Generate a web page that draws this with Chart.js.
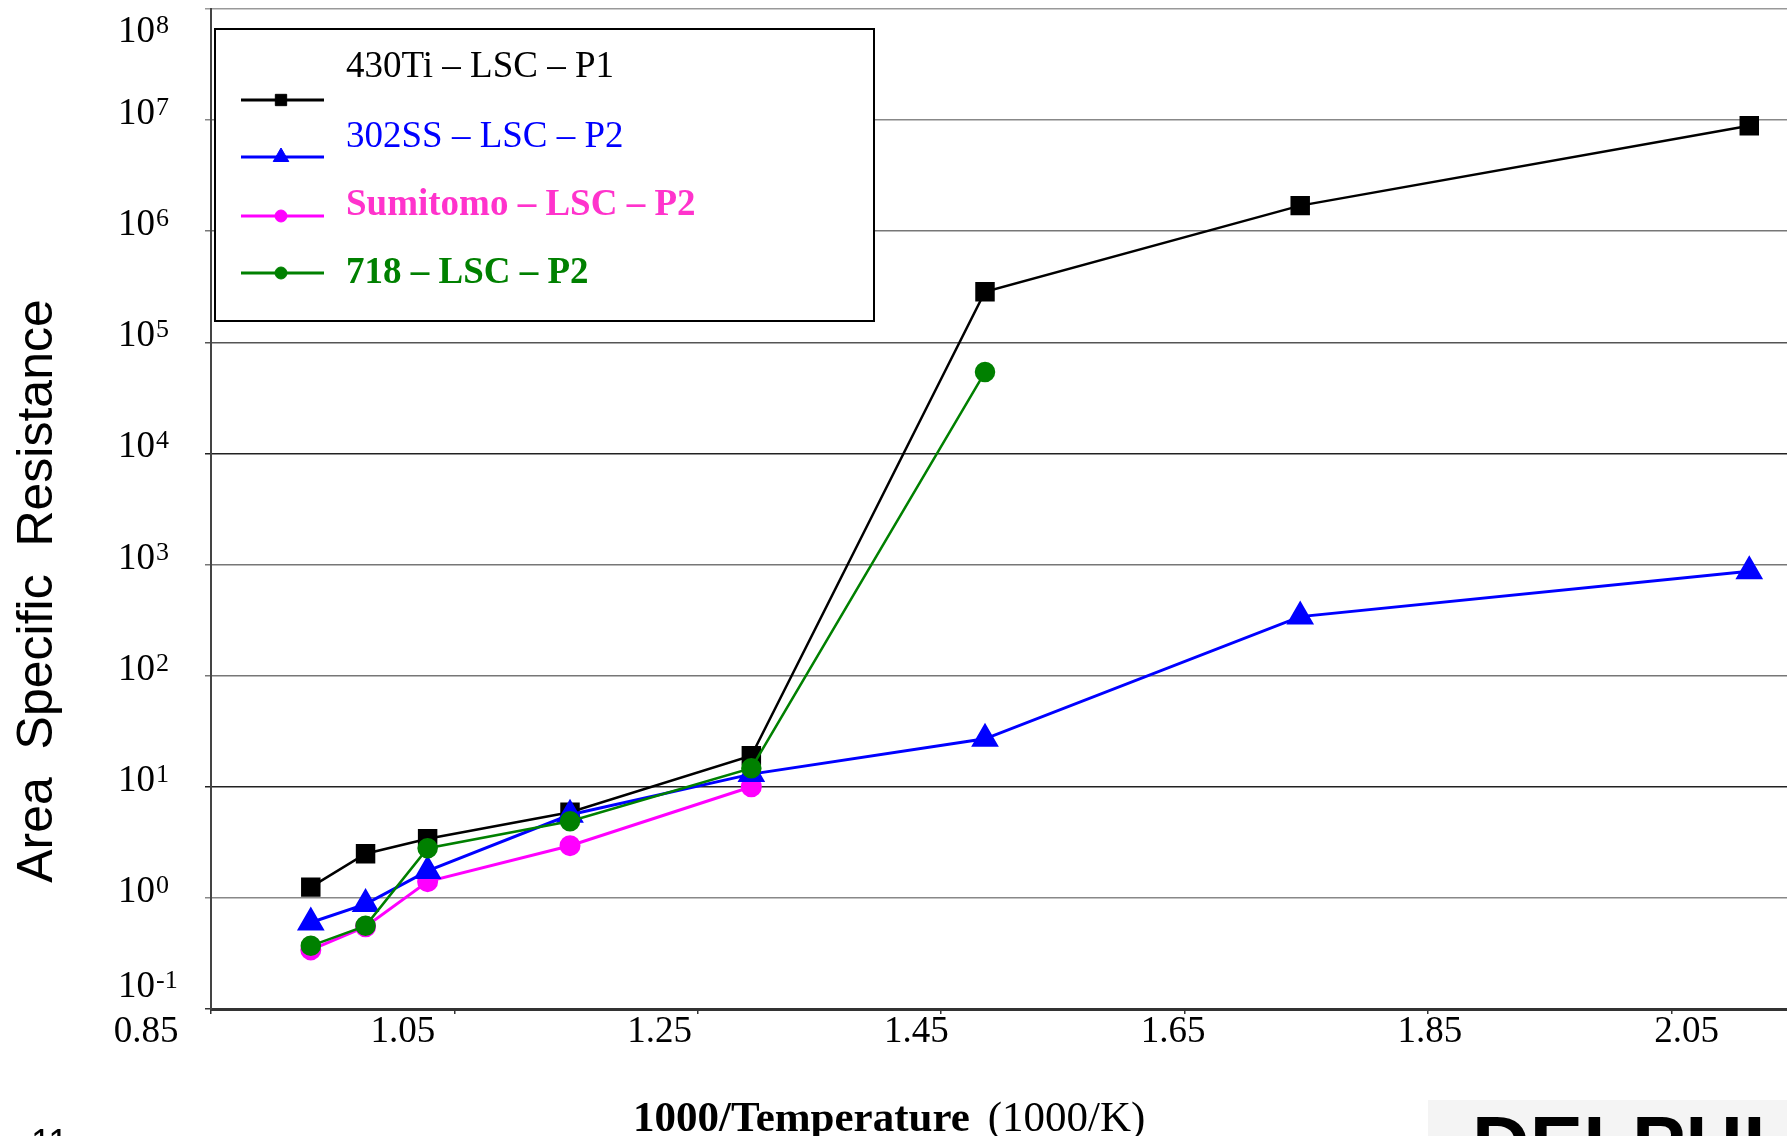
<!DOCTYPE html>
<html>
<head>
<meta charset="utf-8">
<script src="https://cdn.jsdelivr.net/npm/chart.js"></script>
<style>
  html, body { margin: 0; padding: 0; background: #fff; overflow: hidden; }
  canvas { display: block; }
</style>
</head>
<body>
<canvas id="asr" width="1787" height="1136"></canvas>
<script>
// 1000/T for 800, 750, 700, 600, 500, 400, 300, 200 °C
const invTemp = [0.932, 0.977, 1.028, 1.145, 1.294, 1.486, 1.745, 2.114];

const ti430 = [1.25, 2.5, 3.4, 5.9, 19, 2.85e5, 1.7e6, 8.9e6];
const ss302 = [0.6, 0.88, 1.75, 5.6, 13, 27, 340, 870];
const sumitomo = [0.34, 0.55, 1.4, 2.95, 10];
const in718 = [0.37, 0.56, 2.8, 4.9, 14.7, 5.4e4];

const seriesLabels = ['430Ti \u2013 LSC \u2013 P1', '302SS \u2013 LSC \u2013 P2', 'Sumitomo \u2013 LSC \u2013 P2', '718 \u2013 LSC \u2013 P2'];

const xTicks = [0.85, 1.05, 1.25, 1.45, 1.65, 1.85, 2.05];
const yTicks = [0.1, 1, 10, 1e2, 1e3, 1e4, 1e5, 1e6, 1e7, 1e8];

// grid line shades, bottom to top (the scanned original is uneven)
const gridColors = ['#333', '#888', '#222', '#777', '#777', '#222', '#555', '#777', '#888', '#999'];

const toPoints = (vals) => vals.map((v, i) => ({ x: invTemp[i], y: v }));

// legend look per series: text style, text baseline, line y
const legendStyle = [
  { font: '37px "Liberation Serif"', color: '#000', textY: 77, lineY: 100, r: 8 },
  { font: '37px "Liberation Serif"', color: '#0000ff', textY: 147, lineY: 157, r: 9 },
  { font: 'bold 37px "Liberation Serif"', color: '#ff33cc', textY: 215, lineY: 216, r: 6 },
  { font: 'bold 37px "Liberation Serif"', color: '#008000', textY: 283, lineY: 273, r: 6 },
];

const whiteBg = {
  id: 'whiteBg',
  beforeDraw(chart) {
    const ctx = chart.ctx;
    ctx.save();
    ctx.fillStyle = '#fff';
    ctx.fillRect(0, 0, chart.width, chart.height);
    ctx.restore();
  },
};

const overlay = {
  id: 'overlay',
  afterDraw(chart) {
    const { ctx, chartArea: a, scales: { x, y } } = chart;
    ctx.save();
    ctx.fillStyle = '#000';

    // y tick labels: 10 with superscript exponent
    y.ticks.forEach((t) => {
      const exp = Math.round(Math.log10(t.value));
      let c = y.getPixelForValue(t.value) - 9;
      c = Math.min(Math.max(c, 29), 984);
      ctx.textBaseline = 'alphabetic';
      ctx.font = '37px "Liberation Serif"';
      ctx.textAlign = 'right';
      ctx.fillText('10', 155, c + 13);
      ctx.font = '26px "Liberation Serif"';
      ctx.textAlign = 'left';
      ctx.fillText(String(exp), 156, c + 4);
    });

    // x tick labels (slightly stretched against the ticks, as in the original)
    ctx.font = '37px "Liberation Serif"';
    ctx.textAlign = 'center';
    x.ticks.forEach((t) => {
      const px = x.getPixelForValue(t.value);
      const lx = a.left + (px - a.left) * 1.055 - 65;
      ctx.fillText(t.value.toFixed(2), lx, 1042);
    });

    // x title
    ctx.textAlign = 'left';
    ctx.font = 'bold 43px "Liberation Serif"';
    const part1 = '1000/Temperature';
    ctx.fillText(part1, 633, 1131);
    const w1 = ctx.measureText(part1).width;
    ctx.font = '43px "Liberation Serif"';
    ctx.fillText('(1000/K)', 633 + w1 + 18, 1131);

    // y title
    ctx.save();
    ctx.translate(52, 591);
    ctx.rotate(-Math.PI / 2);
    ctx.textAlign = 'center';
    ctx.font = '50px "Liberation Sans"';
    ctx.fillText('Area  Specific  Resistance', 0, 0);
    ctx.restore();

    // legend box
    ctx.fillStyle = '#fff';
    ctx.fillRect(215, 29, 659, 292);
    ctx.strokeStyle = '#000';
    ctx.lineWidth = 2;
    ctx.strokeRect(215, 29, 659, 292);

    chart.data.datasets.forEach((ds, i) => {
      const st = legendStyle[i];
      ctx.strokeStyle = ds.borderColor;
      ctx.lineWidth = 3;
      ctx.beginPath();
      ctx.moveTo(241, st.lineY);
      ctx.lineTo(324, st.lineY);
      ctx.stroke();
      ctx.fillStyle = ds.pointBackgroundColor;
      ctx.strokeStyle = ds.pointBackgroundColor;
      ctx.lineWidth = 1;
      Chart.helpers.drawPoint(ctx, { pointStyle: ds.pointStyle, radius: st.r, rotation: 0, borderWidth: 1 }, 281, st.lineY);
      ctx.font = st.font;
      ctx.fillStyle = st.color;
      ctx.textAlign = 'left';
      ctx.fillText(ds.label, 346, st.textY);
    });

    // slide footer fragments
    ctx.fillStyle = '#000';
    ctx.font = '36px "Liberation Sans"';
    ctx.textBaseline = 'top';
    ctx.fillText('11', 31, 1127);
    ctx.fillStyle = '#f4f4f4';
    ctx.fillRect(1428, 1100, 359, 36);
    ctx.fillStyle = '#000';
    ctx.font = 'bold 80px "Liberation Sans"';
    ctx.textBaseline = 'alphabetic';
    ctx.fillText('DELPHI', 1472, 1172);

    ctx.restore();
  },
};

new Chart(document.getElementById('asr'), {
  type: 'line',
  data: {
    datasets: [
      {
        label: seriesLabels[0],
        data: toPoints(ti430),
        borderColor: '#000000',
        pointBackgroundColor: '#000000',
        pointBorderColor: '#000000',
        borderWidth: 2.5,
        pointStyle: 'rect',
        pointRadius: 12,
        order: 3,
      },
      {
        label: seriesLabels[1],
        data: toPoints(ss302),
        borderColor: '#0000ff',
        pointBackgroundColor: '#0000ff',
        pointBorderColor: '#0000ff',
        borderWidth: 3,
        pointStyle: 'triangle',
        pointRadius: 13,
        order: 1,
      },
      {
        label: seriesLabels[2],
        data: toPoints(sumitomo),
        borderColor: '#ff00ff',
        pointBackgroundColor: '#ff00ff',
        pointBorderColor: '#ff00ff',
        borderWidth: 3,
        pointStyle: 'circle',
        pointRadius: 9,
        order: 2,
      },
      {
        label: seriesLabels[3],
        data: toPoints(in718),
        borderColor: '#008000',
        pointBackgroundColor: '#008000',
        pointBorderColor: '#008000',
        borderWidth: 2.5,
        pointStyle: 'circle',
        pointRadius: 9,
        order: 0,
      },
    ],
  },
  options: {
    responsive: false,
    animation: false,
    devicePixelRatio: 1,
    layout: { autoPadding: false, padding: { top: 9, left: 0, right: 0, bottom: 0 } },
    elements: { line: { tension: 0, fill: false }, point: { borderWidth: 1 } },
    plugins: { legend: { display: false }, tooltip: { enabled: false } },
    scales: {
      x: {
        type: 'linear',
        min: 0.85,
        max: 2.145,
        ticks: { display: false },
        afterBuildTicks: (s) => { s.ticks = xTicks.map((v) => ({ value: v })); },
        afterFit: (s) => { s.height = 127; },
        grid: { drawOnChartArea: false, drawTicks: true, tickLength: 5, color: '#333', lineWidth: 1.5 },
        border: { color: '#333', width: 3 },
      },
      y: {
        type: 'logarithmic',
        min: 0.1,
        max: 1e8,
        ticks: { display: false },
        afterBuildTicks: (s) => { s.ticks = yTicks.map((v) => ({ value: v })); },
        afterFit: (s) => { s.width = 211; },
        grid: { color: gridColors, lineWidth: 1.5, tickLength: 6 },
        border: { color: '#444', width: 2 },
      },
    },
  },
  plugins: [whiteBg, overlay],
});
</script>
</body>
</html>
